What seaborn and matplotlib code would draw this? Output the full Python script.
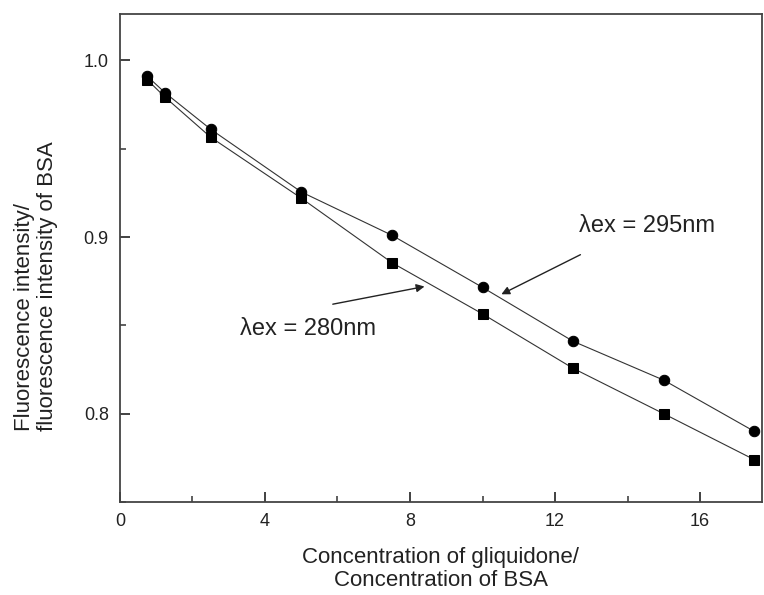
import matplotlib
matplotlib.use("Agg")
import matplotlib.pyplot as plt
import seaborn as sns
import pandas as pd
from matplotlib.ticker import MultipleLocator

ratio = [0.75, 1.25, 2.5, 5, 7.5, 10, 12.5, 15, 17.5]
f295 = [0.991, 0.9815, 0.961, 0.9255, 0.901, 0.8715, 0.841, 0.819, 0.790]
f280 = [0.989, 0.979, 0.9565, 0.922, 0.8855, 0.8565, 0.8257, 0.800, 0.774]
series_names = ["295", "280"]

df = pd.concat([
    pd.DataFrame({"x": ratio, "y": f295, "s": series_names[0]}),
    pd.DataFrame({"x": ratio, "y": f280, "s": series_names[1]}),
])

sns.set_style("ticks")
plt.rcParams["font.family"] = ["Liberation Sans", "DejaVu Sans"]

fig = plt.figure(figsize=(7.64, 5.95), dpi=100)
ax = fig.add_axes([0.157, 0.156, 0.840, 0.820])

sns.lineplot(data=df, x="x", y="y", hue="s", style="s",
             markers={"295": "o", "280": "s"}, dashes=False,
             palette={"295": "#111111", "280": "#111111"},
             markersize=7.5, linewidth=0.8, markeredgecolor="#000000",
             legend=False, ax=ax)
for ln in ax.lines:
    ln.set_color("#333333")
    ln.set_markerfacecolor("#000000")
    ln.set_markeredgecolor("#000000")

ax.set_xlim(0, 17.7)
ax.set_ylim(0.75, 1.026)
ax.xaxis.set_minor_locator(MultipleLocator(2))
ax.yaxis.set_minor_locator(MultipleLocator(0.05))
ax.set_xticks([0, 4, 8, 12, 16])
ax.set_xticklabels(["0", "4", "8", "12", "16"])
ax.set_yticks([0.8, 0.9, 1.0])
ax.set_yticklabels(["0.8", "0.9", "1.0"])

ax.tick_params(which="major", direction="in", length=7, width=1.3, labelsize=13,
               colors="#333333", labelcolor="#222222", pad=8)
ax.tick_params(which="minor", direction="in", length=4, width=1.1, colors="#333333")
for sp in ax.spines.values():
    sp.set_linewidth(1.3)
    sp.set_color("#444444")
    sp.set_visible(True)

ax.set_xlabel("Concentration of gliquidone/\nConcentration of BSA", fontsize=16,
              color="#222222", labelpad=12, linespacing=1.1)
ax.set_ylabel("")
fig.text(0.047, 0.519, "Fluorescence intensity/\nfluorescence intensity of BSA",
         rotation=90, fontsize=16, color="#222222", ha="center", va="center",
         multialignment="left", linespacing=1.1)

ax.annotate("", xy=(10.52, 0.8676), xytext=(12.7, 0.890),
            arrowprops=dict(arrowstyle="-|>", color="#222222", lw=1.0,
                            mutation_scale=12, shrinkA=0, shrinkB=0))
ax.text(14.55, 0.906, "\u03bbex = 295nm", fontsize=17, ha="center", va="center",
        color="#222222")
ax.annotate("", xy=(8.40, 0.872), xytext=(5.87, 0.862),
            arrowprops=dict(arrowstyle="-|>", color="#222222", lw=1.0,
                            mutation_scale=12, shrinkA=0, shrinkB=0))
ax.text(5.2, 0.848, "\u03bbex = 280nm", fontsize=17, ha="center", va="center",
        color="#222222")

fig.savefig("out.png", dpi=100)
